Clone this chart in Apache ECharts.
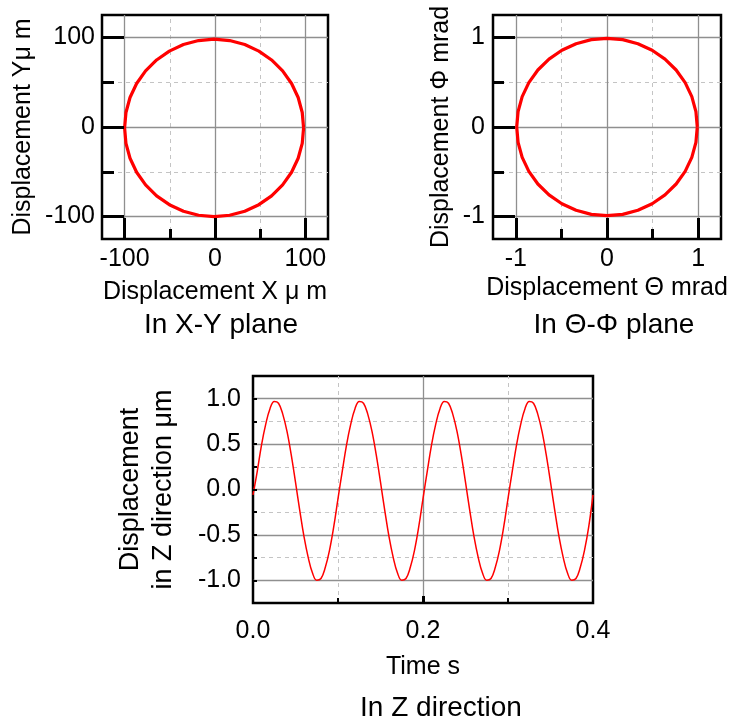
<!DOCTYPE html>
<html><head><meta charset="utf-8">
<script src="https://cdn.jsdelivr.net/npm/echarts@6/dist/echarts.min.js"></script>
<style>html,body{margin:0;padding:0;background:#fff}#c{width:741px;height:722px}</style>
</head><body><div id="c"></div>
<script>
// ---- Data ----
// X-Y plane trajectory (µm)
const xyX = [98, 96.5, 92.0, 84.7, 74.8, 62.6, 48.5, 32.9, 16.2, -1, -18.2, -34.9, -50.5, -64.6, -76.8, -86.7, -94.0, -98.5, -100, -98.5, -94.0, -86.7, -76.8, -64.6, -50.5, -34.9, -18.2, -1, 16.2, 32.9, 48.5, 62.6, 74.8, 84.7, 92.0, 96.5, 98];
const xyY = [-1, 16.2, 32.9, 48.5, 62.6, 74.8, 84.7, 92.0, 96.5, 98, 96.5, 92.0, 84.7, 74.8, 62.6, 48.5, 32.9, 16.2, -1, -18.2, -34.9, -50.5, -64.6, -76.8, -86.7, -94.0, -98.5, -100, -98.5, -94.0, -86.7, -76.8, -64.6, -50.5, -34.9, -18.2, -1];
// Theta-Phi plane trajectory (mrad)
const thetaVals = [0.99, 0.975, 0.93, 0.857, 0.758, 0.636, 0.495, 0.339, 0.172, 0, -0.172, -0.339, -0.495, -0.636, -0.758, -0.857, -0.93, -0.975, -0.99, -0.975, -0.93, -0.857, -0.758, -0.636, -0.495, -0.339, -0.172, 0, 0.172, 0.339, 0.495, 0.636, 0.758, 0.857, 0.93, 0.975, 0.99];
const phiVals = [0, 0.172, 0.339, 0.495, 0.636, 0.758, 0.857, 0.93, 0.975, 0.99, 0.975, 0.93, 0.857, 0.758, 0.636, 0.495, 0.339, 0.172, 0, -0.172, -0.339, -0.495, -0.636, -0.758, -0.857, -0.93, -0.975, -0.99, -0.975, -0.93, -0.857, -0.758, -0.636, -0.495, -0.339, -0.172, 0];
// Z direction (µm) sampled every 5 ms from 0 to 0.4 s
const zTimeStep = 0.005;
const zValues = [
  -0.06, 0.20, 0.49, 0.72, 0.89, 0.97, 0.95, 0.83, 0.64, 0.38, 0.08, -0.23, -0.52, -0.75, -0.92, -1.00, -0.98, -0.86, -0.67, -0.41,
  -0.10, 0.20, 0.49, 0.72, 0.89, 0.97, 0.95, 0.83, 0.64, 0.38, 0.08, -0.23, -0.52, -0.75, -0.92, -1.00, -0.98, -0.86, -0.67, -0.41,
  -0.10, 0.20, 0.49, 0.72, 0.89, 0.97, 0.95, 0.83, 0.64, 0.38, 0.08, -0.23, -0.52, -0.75, -0.92, -1.00, -0.98, -0.86, -0.67, -0.41,
  -0.10, 0.20, 0.49, 0.72, 0.89, 0.97, 0.95, 0.83, 0.64, 0.38, 0.08, -0.23, -0.52, -0.75, -0.92, -1.00, -0.98, -0.86, -0.67, -0.41,
  -0.06
];
// Tick / grid positions
const xyMajorTicks = [-100, 0, 100];
const xyMinorTicks = [-50, 50];
const tpMajorTicks = [-1, 0, 1];
const tpMinorTicks = [-0.5, 0.5];
const zTimeLabels = [0, 0.2, 0.4];
const zTimeMajor = [0.2];
const zTimeMinor = [0.1, 0.3];
const zValLabels = [-1, -0.5, 0, 0.5, 1];
const zValTicks = [-1, -0.75, -0.5, -0.25, 0, 0.25, 0.5, 0.75, 1];
const zValMinor = [-0.75, -0.25, 0.25, 0.75];
// Text
const titles = ['In X-Y plane', 'In \u0398-\u03A6 plane', 'In Z direction'];
const xNames = ['Displacement X \u03BC m', 'Displacement \u0398 mrad', 'Time s'];
const yNames = ['Displacement Y\u03BC m', 'Displacement \u03A6 mrad', 'Displacement\nin Z direction \u03BCm'];

// ---- Chart ----
const FONT = 'Liberation Sans';
const chart = echarts.init(document.getElementById('c'));
const MAJ = '#8f8f8f', MIN = '#c4c4c4';

function gridLines(majX, minX, majY, minY) {
  const d = [];
  minX.forEach(v => d.push({xAxis: v, lineStyle: {type: [4, 4], color: MIN, width: 1}}));
  minY.forEach(v => d.push({yAxis: v, lineStyle: {type: [4, 4], color: MIN, width: 1}}));
  majX.forEach(v => d.push({xAxis: v, lineStyle: {type: 'solid', color: MAJ, width: 1.3}}));
  majY.forEach(v => d.push({yAxis: v, lineStyle: {type: 'solid', color: MAJ, width: 1.3}}));
  return {silent: true, symbol: ['none', 'none'], label: {show: false}, animation: false, z: 1,
          emphasis: {disabled: true}, data: d};
}
function mainAxis(o) {
  return Object.assign({
    type: 'value', z: 5, axisLine: {show: false, onZero: false}, splitLine: {show: false},
    axisTick: {show: true, inside: true, customValues: o.ticks, length: o.tickLen, lineStyle: {color: '#000', width: o.tickW || 3}},
    axisLabel: {show: true, customValues: o.labels, margin: o.margin, fontSize: o.fs || 25, fontFamily: FONT, color: '#000',
                formatter: o.fmt},
    nameLocation: 'middle', nameGap: o.gap, nameTextStyle: {fontSize: o.nfs || 25, fontFamily: FONT, color: '#000', lineHeight: o.nlh}
  }, o.base);
}
function overlayAxis(o) {
  return Object.assign({
    type: 'value', z: 5, axisLine: {show: false, onZero: false}, splitLine: {show: false}, axisLabel: {show: false},
    axisTick: {show: true, inside: true, customValues: o.ticks, length: o.tickLen, lineStyle: {color: '#000', width: o.tickW || 3}}
  }, o.base);
}
const fmt1 = v => v.toFixed(1);

const option = {
  animation: false,
  backgroundColor: '#fff',
  grid: [
    {left: 102, top: 15, width: 226, height: 224, show: true, borderColor: '#000', borderWidth: 2.5, outerBoundsMode: 'none'},
    {left: 493, top: 15, width: 228, height: 224, show: true, borderColor: '#000', borderWidth: 2.5, outerBoundsMode: 'none'},
    {left: 253, top: 376, width: 340, height: 227, show: true, borderColor: '#000', borderWidth: 2.5, outerBoundsMode: 'none'}
  ],
  xAxis: [
    mainAxis({base: {gridIndex: 0, min: -125, max: 125, interval: 25, position: 'bottom', name: xNames[0]},
              ticks: xyMajorTicks, tickLen: 21, labels: xyMajorTicks, margin: 8, gap: 41}),
    overlayAxis({base: {gridIndex: 0, min: -125, max: 125, interval: 25, position: 'bottom'}, ticks: xyMinorTicks, tickLen: 10}),
    mainAxis({base: {gridIndex: 1, min: -1.25, max: 1.25, interval: 0.25, position: 'bottom', name: xNames[1]},
              ticks: tpMajorTicks, tickLen: 21, labels: tpMajorTicks, margin: 8, gap: 37}),
    overlayAxis({base: {gridIndex: 1, min: -1.25, max: 1.25, interval: 0.25, position: 'bottom'}, ticks: tpMinorTicks, tickLen: 10}),
    mainAxis({base: {gridIndex: 2, min: 0, max: 0.4, interval: 0.1, position: 'bottom', name: xNames[2]},
              ticks: zTimeMajor, tickLen: 7, tickW: 3, labels: zTimeLabels, margin: 16, gap: 52, fmt: fmt1}),
    overlayAxis({base: {gridIndex: 2, min: 0, max: 0.4, interval: 0.1, position: 'bottom'}, ticks: zTimeMinor, tickLen: 5, tickW: 2})
  ],
  yAxis: [
    mainAxis({base: {gridIndex: 0, min: -125, max: 125, interval: 25, position: 'left', name: yNames[0]},
              ticks: xyMajorTicks, tickLen: 22, labels: xyMajorTicks, margin: 7, gap: 66}),
    overlayAxis({base: {gridIndex: 0, min: -125, max: 125, interval: 25, position: 'left'}, ticks: xyMinorTicks, tickLen: 12}),
    mainAxis({base: {gridIndex: 1, min: -1.25, max: 1.25, interval: 0.25, position: 'left', name: yNames[1]},
              ticks: tpMajorTicks, tickLen: 22, labels: tpMajorTicks, margin: 8, gap: 39}),
    overlayAxis({base: {gridIndex: 1, min: -1.25, max: 1.25, interval: 0.25, position: 'left'}, ticks: tpMinorTicks, tickLen: 11}),
    mainAxis({base: {gridIndex: 2, min: -1.25, max: 1.25, interval: 0.25, position: 'left', name: yNames[2]},
              ticks: zValTicks, tickLen: 4, tickW: 2, labels: zValLabels, margin: 12, gap: 73, fmt: fmt1, nfs: 27, nlh: 33})
  ],
  series: [
    {type: 'line', xAxisIndex: 0, yAxisIndex: 0, z: 3, symbol: 'none', silent: true,
     lineStyle: {color: '#ff0000', width: 3.2}, itemStyle: {color: '#ff0000'},
     data: xyX.map((x, i) => [x, xyY[i]]),
     markLine: gridLines(xyMajorTicks, xyMinorTicks, xyMajorTicks, xyMinorTicks)},
    {type: 'line', xAxisIndex: 2, yAxisIndex: 2, z: 3, symbol: 'none', silent: true,
     lineStyle: {color: '#ff0000', width: 3.2}, itemStyle: {color: '#ff0000'},
     data: thetaVals.map((x, i) => [x, phiVals[i]]),
     markLine: gridLines(tpMajorTicks, tpMinorTicks, tpMajorTicks, tpMinorTicks)},
    {type: 'line', xAxisIndex: 4, yAxisIndex: 4, z: 3, symbol: 'none', silent: true, smooth: 0.4,
     lineStyle: {color: '#ff0000', width: 1.5}, itemStyle: {color: '#ff0000'},
     data: zValues.map((v, i) => [+(i * zTimeStep).toFixed(3), v]),
     markLine: gridLines(zTimeMajor, zTimeMinor, zValLabels, zValMinor)}
  ],
  graphic: [
    {type: 'text', x: 221, y: 325, silent: true, style: {text: titles[0], fontSize: 28, fontFamily: FONT, fill: '#000', align: 'center', verticalAlign: 'middle'}},
    {type: 'text', x: 614, y: 325, silent: true, style: {text: titles[1], fontSize: 28, fontFamily: FONT, fill: '#000', align: 'center', verticalAlign: 'middle'}},
    {type: 'text', x: 441, y: 708, silent: true, style: {text: titles[2], fontSize: 28, fontFamily: FONT, fill: '#000', align: 'center', verticalAlign: 'middle'}}
  ]
};
chart.setOption(option);
</script>
</body></html>
